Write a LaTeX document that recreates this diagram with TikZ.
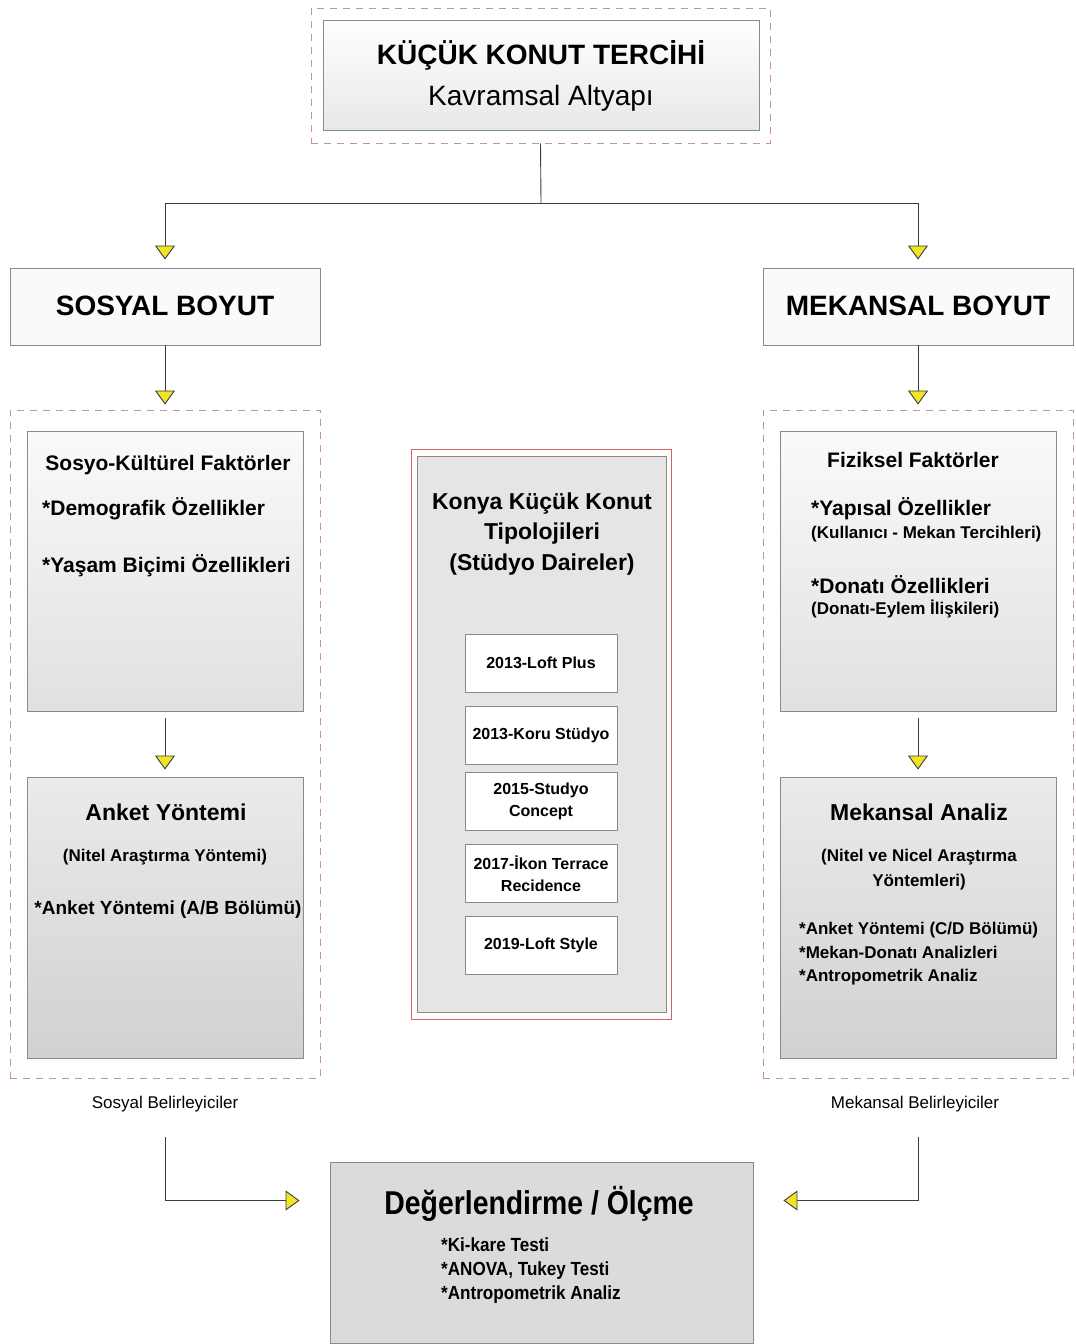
\documentclass[tikz,border=0pt]{standalone}
\usepackage{fontspec}
\usepackage{graphicx}
\setmainfont{Liberation Sans}
\usetikzlibrary{arrows.meta,positioning}

\definecolor{linegray}{HTML}{3C3C3C}
\definecolor{boxgray}{HTML}{8A8A8A}
\definecolor{dashpink}{HTML}{C8929A}
\definecolor{tipyellow}{HTML}{F0E424}
\definecolor{framered}{HTML}{D06464}

\newcommand{\fsz}[2]{\fontsize{#1}{#2}\selectfont}

\tikzset{
  box/.style={draw=boxgray, line width=0.9pt, inner sep=0pt},
  frame/.style={draw=dashpink, line width=0.9pt, dash pattern=on 7pt off 6pt, inner sep=0pt},
  txt/.style={inner sep=0pt, align=center},
  link/.style={draw=linegray, line width=0.9pt},
  tip/.style={-{Triangle[width=20pt,length=14pt,fill=tipyellow]}}
}

\begin{document}
\begin{tikzpicture}[x=1pt, y=-1pt]
  \useasboundingbox (0,0) rectangle (1076,1344);

  % Kavramsal altyapi
  \node[frame, minimum width=459pt, minimum height=135pt] (topframe) at (540.5,75.5) {};
  \node[box, top color=white, bottom color=black!9, minimum width=436pt, minimum height=110pt] (top) at (541,75) {};
  \node[txt, font=\fsz{28}{41}] (toptext) at (541,76) {\textbf{KÜÇÜK KONUT TERCİHİ}\\Kavramsal Altyapı};

  % boyutlar
  \node[box, fill=black!2, minimum width=310pt, minimum height=77pt] (sosyal) at (165,306.5) {};
  \node[txt, font=\fsz{28}{32}\bfseries] (sosyaltext) at (165,306) {SOSYAL BOYUT};
  \node[box, fill=black!2, minimum width=310pt, minimum height=77pt] (mekansal) at (918,306.5) {};
  \node[txt, font=\fsz{28}{32}\bfseries] (mekansaltext) at (918,306) {MEKANSAL BOYUT};

  % sol: sosyal belirleyiciler
  \node[frame, minimum width=310pt, minimum height=668pt] (sframe) at (165,744) {};
  \node[box, top color=black!2, bottom color=black!12, minimum width=276pt, minimum height=280pt] (sosyo) at (165,571) {};
  \node[txt, font=\fsz{21}{25}\bfseries] (sosyotitle) at (168,465) {Sosyo-Kültürel Faktörler};
  \node[txt, anchor=west, font=\fsz{21}{25}\bfseries] (demo) at (42,509) {*Demografik Özellikler};
  \node[txt, anchor=west, font=\fsz{21}{25}\bfseries] (yasam) at (42,566) {*Yaşam Biçimi Özellikleri};

  \node[box, top color=black!8, bottom color=black!18, minimum width=276pt, minimum height=281pt] (anket) at (165,917.5) {};
  \node[txt, font=\fsz{23}{27}\bfseries] (ankettitle) at (166,812) {Anket Yöntemi};
  \node[txt, font=\fsz{17}{21}\bfseries] (nitel) at (165,857) {(Nitel Araştırma Yöntemi)};
  \node[txt, font=\fsz{19}{23}\bfseries] (anketab) at (168,910) {*Anket Yöntemi (A/B Bölümü)};
  \node[txt, font=\fsz{17}{21}] (slabel) at (165,1104) {Sosyal Belirleyiciler};

  % orta: tipolojiler
  \node[draw=framered, line width=1pt, inner sep=0pt, minimum width=260pt, minimum height=570pt] (konyaframe) at (541,734) {};
  \node[box, fill=black!10, minimum width=249pt, minimum height=556pt] (konya) at (541.5,734) {};
  \node[txt, font=\fsz{23}{30.5}\bfseries] (konyatitle) at (542,534) {Konya Küçük Konut\\Tipolojileri\\(Stüdyo Daireler)};
  \foreach \y/\name/\label in {663/t1/{2013-Loft Plus}, 735/t2/{2013-Koru Stüdyo}, 801/t3/{2015-Studyo\\Concept}, 873.5/t4/{2017-İkon Terrace\\Recidence}, 945.5/t5/{2019-Loft Style}}
    \node[box, fill=white, minimum width=152pt, minimum height=58pt, font=\fsz{16}{22}\bfseries, align=center] (\name) at (541,\y) {\label};

  % sag: mekansal belirleyiciler
  \node[frame, minimum width=310pt, minimum height=668pt] (mframe) at (918,744) {};
  \node[box, top color=black!2, bottom color=black!12, minimum width=276pt, minimum height=280pt] (fizik) at (918,571) {};
  \node[txt, font=\fsz{21}{25}\bfseries] (fiziktitle) at (913,460) {Fiziksel Faktörler};
  \node[txt, anchor=west, font=\fsz{21}{25}\bfseries] (yapisal) at (811,509) {*Yapısal Özellikler};
  \node[txt, anchor=west, font=\fsz{17}{21}\bfseries] (kullanici) at (811,534) {(Kullanıcı - Mekan Tercihleri)};
  \node[txt, anchor=west, font=\fsz{21}{25}\bfseries] (donati) at (811,585) {*Donatı Özellikleri};
  \node[txt, anchor=west, font=\fsz{17}{21}\bfseries] (eylem) at (811,609) {(Donatı-Eylem İlişkileri)};

  \node[box, top color=black!8, bottom color=black!18, minimum width=276pt, minimum height=281pt] (manaliz) at (918,917.5) {};
  \node[txt, font=\fsz{23}{27}\bfseries] (manaliztitle) at (919,812) {Mekansal Analiz};
  \node[txt, font=\fsz{17}{25}\bfseries] (nicel) at (919,869.5) {(Nitel ve Nicel Araştırma\\Yöntemleri)};
  \node[txt, anchor=west, align=left, font=\fsz{17}{23.5}\bfseries] (mitems) at (799,954) {*Anket Yöntemi (C/D Bölümü)\\*Mekan-Donatı Analizleri\\*Antropometrik Analiz};
  \node[txt, font=\fsz{17}{21}] (mlabel) at (915,1104) {Mekansal Belirleyiciler};

  % degerlendirme
  \node[box, fill=black!14, minimum width=423pt, minimum height=181pt] (olcme) at (541.5,1252.5) {};
  \node[txt, font=\fsz{33}{37}\bfseries] (olcmetitle) at (539,1204) {\scalebox{0.86}[1]{Değerlendirme / Ölçme}};
  \node[txt, anchor=west, font=\fsz{19}{24}\bfseries] (oitems) at (441,1271)
    {\scalebox{0.9}[1]{\begin{tabular}{@{}l@{}}*Ki-kare Testi\\{}*ANOVA, Tukey Testi\\{}*Antropometrik Analiz\end{tabular}}};

  % baglantilar
  \coordinate (split) at (541,203);
  \draw[link] (topframe.south) -- (split);
  \draw[link, tip, shorten >=8pt] (split) -| (sosyal.north);
  \draw[link, tip, shorten >=8pt] (split) -| (mekansal.north);
  \draw[link, tip, shorten >=5pt] (sosyal.south) -- (sframe.north);
  \draw[link, tip, shorten >=5pt] (mekansal.south) -- (mframe.north);
  \draw[link, tip, shorten <=7pt, shorten >=7pt] (sosyo.south) -- (anket.north);
  \draw[link, tip, shorten <=7pt, shorten >=7pt] (fizik.south) -- (manaliz.north);
  \draw[link, tip, shorten <=25pt, shorten >=30pt] (slabel.south) |- ([yshift=52pt]olcme.west);
  \draw[link, tip, shorten <=25pt, shorten >=30pt] ([xshift=3pt]mlabel.south) |- ([yshift=52pt]olcme.east);
\end{tikzpicture}
\end{document}
